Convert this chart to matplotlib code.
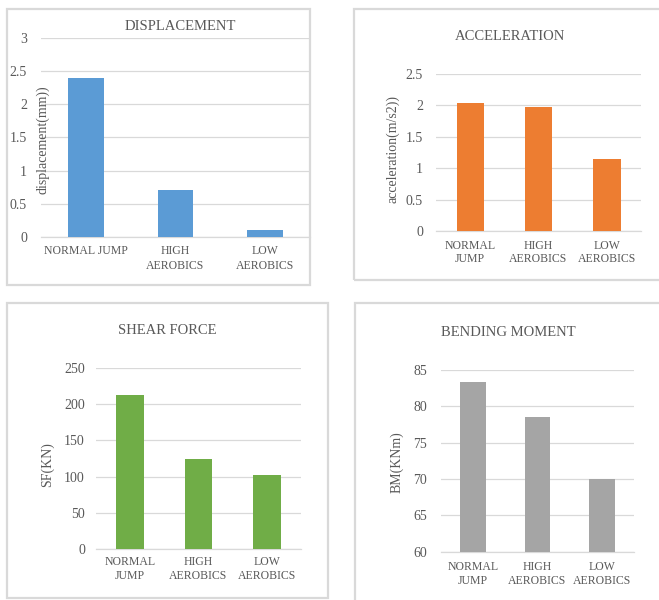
import matplotlib
matplotlib.use("Agg")
import matplotlib.pyplot as plt
from matplotlib.patches import Rectangle
from matplotlib.ticker import FuncFormatter, MultipleLocator

# ---- data ----
labels_wide = ["NORMAL JUMP", "HIGH\nAEROBICS", "LOW\nAEROBICS"]
labels_narrow = ["NORMAL\nJUMP", "HIGH\nAEROBICS", "LOW\nAEROBICS"]
labels_tight = ["NORMAL\nJUMP", "HIGH\nAEROBICS", "LOW\nAEROBICS"]

displacement = [2.4, 0.7, 0.1]
acceleration = [2.04, 1.97, 1.14]
shear_force = [213, 124, 102]
bending_moment = [83.4, 78.5, 70.0]

W, H = 659, 600
TEXT = "#595959"
GRID = "#d9d9d9"
plt.rcParams["font.family"] = ["Liberation Serif", "DejaVu Serif"]

fig = plt.figure(figsize=(W / 100, H / 100), dpi=100)
fig.patch.set_facecolor("white")


def fx(px):
    return px / W


def fy(py):
    return 1 - py / H


def frame(x0, y0, x1, y1):
    fig.patches.append(Rectangle((fx(x0), fy(y1)), fx(x1) - fx(x0), fy(y0) - fy(y1),
                                 transform=fig.transFigure, fill=False,
                                 edgecolor=GRID, linewidth=1.6, zorder=0))


def panel(box, values, labels, color, ylim, step, title, title_xy, ylabel, ylabel_xy,
          ypad, xpad, linesp):
    left, right, top, bottom = box
    ax = fig.add_axes([fx(left), fy(bottom), fx(right) - fx(left), fy(top) - fy(bottom)])
    x = range(len(values))
    ax.bar(x, values, width=0.4, color=color, zorder=3)
    ax.set_xlim(-0.5, len(values) - 0.5)
    ax.set_ylim(*ylim)
    ax.yaxis.set_major_locator(MultipleLocator(step))
    ax.yaxis.set_major_formatter(FuncFormatter(lambda v, p: f"{v:g}"))
    ax.grid(axis="y", color=GRID, linewidth=0.9, zorder=0)
    ax.set_axisbelow(True)
    for s in ("left", "right", "top"):
        ax.spines[s].set_visible(False)
    ax.spines["bottom"].set_color(GRID)
    ax.spines["bottom"].set_linewidth(0.9)
    ax.set_xticks(list(x))
    ax.set_xticklabels(labels, fontsize=8.5, color=TEXT, linespacing=linesp)
    ax.tick_params(axis="x", length=0, pad=xpad)
    ax.tick_params(axis="y", length=0, pad=ypad, labelsize=10, labelcolor=TEXT)
    ax.patch.set_alpha(0)
    fig.text(fx(title_xy[0]), fy(title_xy[1]), title, ha="center", va="center",
             fontsize=10.5, color=TEXT)
    fig.text(fx(ylabel_xy[0]), fy(ylabel_xy[1]), ylabel, ha="center", va="center",
             rotation=90, fontsize=10, color=TEXT)
    return ax


# panel frames
frame(7, 9, 310, 285)
frame(354, 9, 680, 280)
frame(7, 303, 328, 598)
frame(355, 303, 680, 620)

panel((41, 310, 38.3, 236.7), displacement, labels_wide, "#5B9BD5", (0, 3), 0.5,
      "DISPLACEMENT", (180, 27), "displacement(mm))", (43, 140), 10, 6, 1.3)
panel((436, 641, 74, 231), acceleration, labels_narrow, "#ED7D31", (0, 2.5), 0.5,
      "ACCELERATION", (510, 37), "acceleration(m/s2))", (393, 149), 9.4, 6.5, 1.1)
panel((96, 301, 367.7, 549.3), shear_force, labels_narrow, "#70AD47", (0, 250), 50,
      "SHEAR FORCE", (167, 331), "SF(KN)", (47, 465), 8, 5, 1.2)
panel((441, 634, 370, 551.7), bending_moment, labels_tight, "#A5A5A5", (60, 85), 5,
      "BENDING MOMENT", (508, 332), "BM(KNm)", (397, 462), 10, 7, 1.15)

fig.savefig("out.png", dpi=100, facecolor="white")
